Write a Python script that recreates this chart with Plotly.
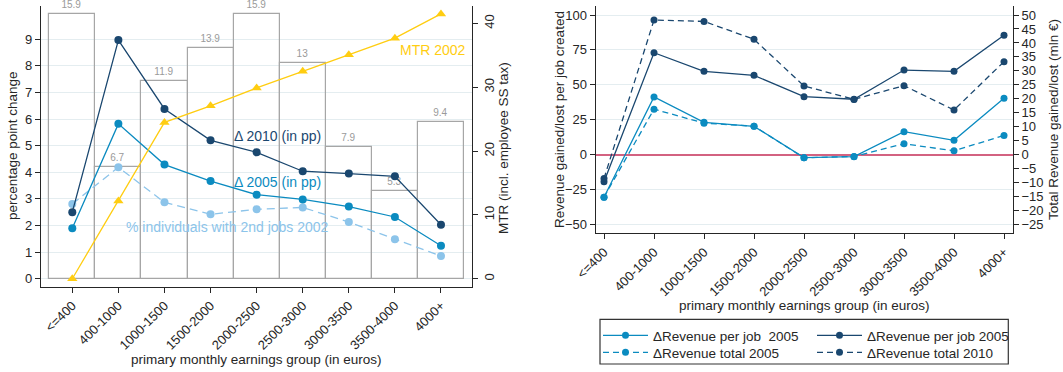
import plotly.graph_objects as go

# ---------------- data ----------------
groups = ["<=400", "400-1000", "1000-1500", "1500-2000", "2000-2500",
          "2500-3000", "3000-3500", "3500-4000", "4000+"]

# left panel
share_2nd_jobs_bars = [15.9, 6.7, 11.9, 13.9, 15.9, 13, 7.9, 5.3, 9.4]
delta_2010_pp = [2.5, 8.97, 6.38, 5.2, 4.75, 4.04, 3.95, 3.85, 2.03]
delta_2005_pp = [1.9, 5.82, 4.29, 3.67, 3.16, 2.98, 2.71, 2.32, 1.24]
pct_2nd_jobs_2002 = [2.81, 4.19, 2.87, 2.42, 2.61, 2.68, 2.13, 1.48, 0.85]
mtr_2002 = [0.0, 12.2, 24.5, 27.1, 29.9, 32.5, 35.1, 37.7, 41.5]

# right panel
rev_per_job_2005 = [-30.5, 41.3, 23.2, 20.3, -2.1, -1.4, 16.5, 10.3, 40.4]
rev_per_job_2010 = [-19.4, 73.0, 59.7, 56.8, 41.5, 39.7, 60.6, 59.7, 85.5]
rev_total_2005 = [-15.2, 16.3, 11.3, 10.2, -1.1, -0.6, 3.9, 1.4, 6.9]
rev_total_2010 = [-8.5, 48.2, 47.7, 41.3, 24.6, 19.8, 24.7, 16.0, 33.3]

pp_ticks = list(range(0, 10))
mtr_ticks = [0, 10, 20, 30, 40]
per_job_ticks = [100, 75, 50, 25, 0, -25, -50]
total_ticks = list(range(50, -30, -5))

# ---------------- style ----------------
W, H = 1063, 372
FONT = "Liberation Sans, Arial, sans-serif"
NAVY = "#1a476f"
TEAL = "#0b8bc0"
LIGHT = "#8cc4ea"
GOLD = "#ffcd11"
GRAY = "#a6a6a6"
GRID = "#e4edf0"
AXIS = "#262626"
ZERO = "#d36281"


def px_x(p):
    return p / W


def px_y(p):
    return (H - p) / H


fig = go.Figure()

# left panel: outline bars with value labels
fig.add_trace(go.Bar(
    x=groups, y=share_2nd_jobs_bars, xaxis="x", yaxis="y", width=1.0,
    marker=dict(color="rgba(0,0,0,0)", line=dict(color=GRAY, width=1.2)),
    text=[f"{v:g}" for v in share_2nd_jobs_bars], textposition="outside",
    textfont=dict(color="#9a9a9a", size=10, family=FONT),
    cliponaxis=False, showlegend=False, hoverinfo="skip"))

fig.add_trace(go.Scatter(
    x=groups, y=pct_2nd_jobs_2002, xaxis="x", yaxis="y2", mode="lines+markers",
    line=dict(color=LIGHT, width=1.3, dash="8px,5px"),
    marker=dict(color=LIGHT, size=8), showlegend=False))
fig.add_trace(go.Scatter(
    x=groups, y=delta_2005_pp, xaxis="x", yaxis="y2", mode="lines+markers",
    line=dict(color=TEAL, width=1.3), marker=dict(color=TEAL, size=8),
    showlegend=False))
fig.add_trace(go.Scatter(
    x=groups, y=delta_2010_pp, xaxis="x", yaxis="y2", mode="lines+markers",
    line=dict(color=NAVY, width=1.3), marker=dict(color=NAVY, size=8),
    showlegend=False))
fig.add_trace(go.Scatter(
    x=groups, y=mtr_2002, xaxis="x", yaxis="y3", mode="lines+markers",
    line=dict(color=GOLD, width=1.3),
    marker=dict(color=GOLD, size=9, symbol="triangle-up"), showlegend=False))

# right panel (legend rows: per job / total)
fig.add_trace(go.Scatter(
    x=groups, y=rev_per_job_2005, xaxis="x2", yaxis="y4", mode="lines+markers",
    name="\u0394Revenue per job \u00a02005", legend="legend",
    line=dict(color=TEAL, width=1.3), marker=dict(color=TEAL, size=7)))
fig.add_trace(go.Scatter(
    x=groups, y=rev_per_job_2010, xaxis="x2", yaxis="y4", mode="lines+markers",
    name="\u0394Revenue per job 2005", legend="legend",
    line=dict(color=NAVY, width=1.3), marker=dict(color=NAVY, size=7)))
fig.add_trace(go.Scatter(
    x=groups, y=rev_total_2005, xaxis="x2", yaxis="y5", mode="lines+markers",
    name="\u0394Revenue total 2005", legend="legend2",
    line=dict(color=TEAL, width=1.3, dash="6px,4px"),
    marker=dict(color=TEAL, size=7)))
fig.add_trace(go.Scatter(
    x=groups, y=rev_total_2010, xaxis="x2", yaxis="y5", mode="lines+markers",
    name="\u0394Revenue total 2010", legend="legend2",
    line=dict(color=NAVY, width=1.3, dash="6px,4px"),
    marker=dict(color=NAVY, size=7)))

tickfont = dict(family=FONT, size=13, color=AXIS)

left_x = [px_x(41), px_x(472)]
left_y = [px_y(286.7), px_y(6)]
right_x = [px_x(595.7), px_x(1012.7)]
right_y = [px_y(233.3), px_y(6)]

axis_common = dict(showline=True, linecolor=AXIS, linewidth=1.3,
                   ticks="outside", ticklen=5, tickcolor=AXIS, tickwidth=1.1,
                   automargin=False, tickfont=tickfont)

legend_common = dict(xanchor="left", yanchor="top", orientation="h",
                     bgcolor="rgba(0,0,0,0)", borderwidth=0,
                     font=dict(family=FONT, size=13.5, color=AXIS),
                     itemwidth=45, entrywidth=154, entrywidthmode="pixels",
                     traceorder="normal")

fig.update_layout(
    width=W, height=H, margin=dict(l=0, r=0, t=0, b=0),
    paper_bgcolor="white", plot_bgcolor="white",
    font=dict(family=FONT, size=13, color=AXIS),
    bargap=0,
    xaxis=dict(domain=left_x, anchor="y", type="category",
               range=[-0.679, 8.673], tickangle=-45, showgrid=False,
               zeroline=False, **axis_common),
    yaxis=dict(domain=left_y, anchor="x", range=[-0.48, 16.40],
               visible=False, showgrid=False, zeroline=False),
    yaxis2=dict(overlaying="y", anchor="x", side="left",
                range=[-0.30, 10.25], tickvals=pp_ticks, zeroline=False,
                showgrid=True, gridcolor=GRID, gridwidth=1, **axis_common),
    yaxis3=dict(overlaying="y", anchor="x", side="right",
                range=[-1.25, 42.74], tickvals=mtr_ticks, tickangle=-90,
                showgrid=False, zeroline=False, **axis_common),
    xaxis2=dict(domain=right_x, anchor="y4", type="category",
                range=[-0.166, 8.174], tickangle=-45, showgrid=False,
                zeroline=False, **axis_common),
    yaxis4=dict(domain=right_y, anchor="x2", side="left",
                range=[-56.26, 106.44], tickvals=per_job_ticks,
                showgrid=True, gridcolor=GRID, gridwidth=1,
                zeroline=True, zerolinecolor=ZERO, zerolinewidth=2.2,
                **axis_common),
    yaxis5=dict(overlaying="y4", anchor="x2", side="right",
                range=[-28.13, 53.22], tickvals=total_ticks,
                showgrid=False, zeroline=False, **axis_common),
    legend=dict(x=px_x(598), y=px_y(320), **legend_common),
    legend2=dict(x=px_x(598), y=px_y(337), **legend_common),
)

# legend frame
fig.add_shape(type="rect", xref="paper", yref="paper",
              x0=px_x(600), x1=px_x(1008.3), y0=px_y(364), y1=px_y(319.3),
              line=dict(color="#333333", width=1.2), fillcolor="rgba(0,0,0,0)")


def label(text, x, y, color=AXIS, size=13.5, angle=0):
    fig.add_annotation(text=text, xref="paper", yref="paper",
                       x=px_x(x), y=px_y(y), xanchor="center", yanchor="middle",
                       showarrow=False, textangle=angle,
                       font=dict(family=FONT, size=size, color=color))


# axis titles
label("percentage point change", 12, 146, angle=-90)
label("MTR (incl. employee SS tax)", 503, 148, angle=-90)
label("primary monthly earnings group (in euros)", 256.5, 359)
label("Revenue gained/lost per job created", 559, 120, angle=-90)
label("Total Revenue gained/lost (mln \u20ac)", 1053, 120, angle=-90)
label("primary monthly earnings group (in euros)", 804, 305)

# series labels inside the left panel
label("MTR 2002", 433, 50, color=GOLD, size=14)
label("\u0394 2010 (in pp)", 277, 136, color=NAVY, size=14)
label("\u0394 2005 (in pp)", 277, 182, color=TEAL, size=14)
label("% individuals with 2nd jobs 2002", 227, 226.5, color=LIGHT, size=14)

fig.write_html("out.html")
